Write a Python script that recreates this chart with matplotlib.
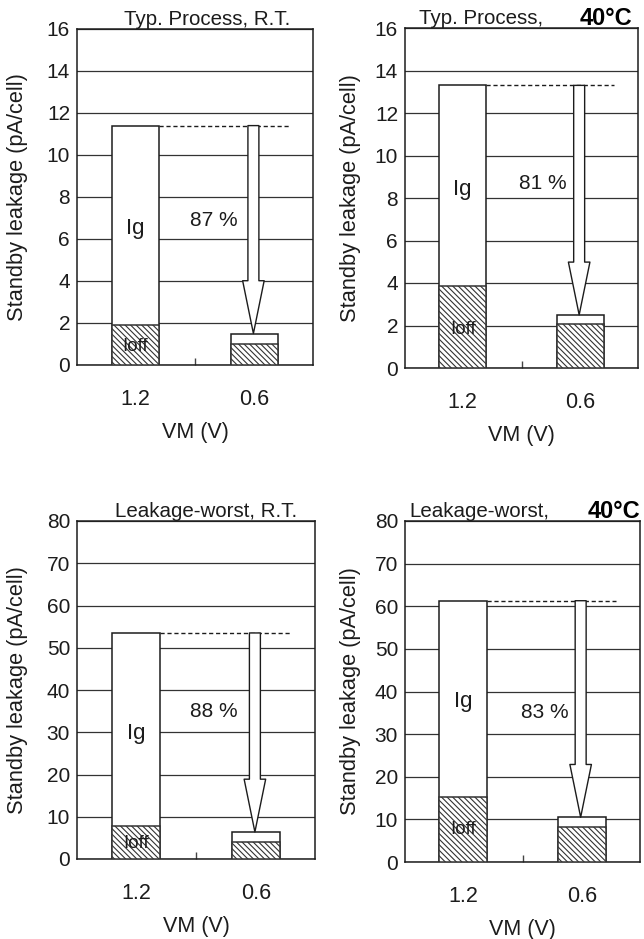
import matplotlib
matplotlib.use("Agg")
import matplotlib.pyplot as plt

plt.rcParams['font.family'] = ['Liberation Sans', 'DejaVu Sans']
plt.rcParams['hatch.linewidth'] = 0.8

# ---- data ----
categories = ["1.2", "0.6"]
panel_titles = ["Typ. Process, R.T.", "Typ. Process,", "Leakage-worst, R.T.", "Leakage-worst,"]
panel_temps = ["", "40°C", "", "40°C"]
total_leak = [[11.4, 1.5], [13.3, 2.5], [53.5, 6.4], [61.3, 10.5]]
ioff_leak = [[1.9, 1.0], [3.85, 2.05], [7.7, 4.1], [15.2, 8.1]]
reduction = ["87 %", "81 %", "88 %", "83 %"]
y_max = [16, 16, 80, 80]
y_step = [2, 2, 10, 10]

# ---- layout (pixels) ----
W, H = 644, 939
boxes = [(77, 313, 29, 365), (405, 638, 28, 368), (77, 315, 521, 859), (405, 640, 521, 862)]
ylabel_x = [17.5, 350, 17, 350]
title_pos = [(0.553, 'center'), (0.06, 'left'), (0.542, 'center'), (0.02, 'left')]
temp_x = [None, 0.974, None, 1.0]
ig_y = [6.5, 8.4, 29.7, 37.7]
ioff_y = [0.9, 1.8, 3.7, 7.6]
pct_xy = [(0.66, 6.9), (0.68, 8.7), (0.645, 34.9), (0.69, 35.1)]

ink = '#1c1c1c'
fig = plt.figure(figsize=(W / 100, H / 100), dpi=100)
x = [0, 1]
bw = 0.40
for i in range(4):
    l, r, t, b = boxes[i]
    ax = fig.add_axes([l / W, 1 - b / H, (r - l) / W, (b - t) / H])
    ax.set_xlim(-0.49, 1.49)
    ax.set_ylim(0, y_max[i])
    ax.set_yticks(range(0, y_max[i] + 1, y_step[i]))
    ax.yaxis.grid(True, color='#333333', linewidth=0.9)
    ax.set_axisbelow(True)
    for s in ax.spines.values():
        s.set_linewidth(1.1)
        s.set_color(ink)
    tot = total_leak[i]
    off = ioff_leak[i]
    # white total bars, hatched Ioff bars
    ax.bar(x, tot, width=bw, color='white', edgecolor=ink, linewidth=1.1, zorder=2)
    ax.bar(x, off, width=bw, color='white', edgecolor='#333333', linewidth=1.1,
           hatch='\\' * 6, zorder=3)
    # dashed reference line
    ax.plot([x[0] + bw / 2, 1.29], [tot[0], tot[0]], linestyle=(0, (3, 2)),
            color=ink, linewidth=1.0, zorder=4)
    # hollow arrow
    ax.annotate('', xy=(0.99, tot[1]), xytext=(0.99, tot[0]),
                arrowprops=dict(arrowstyle='simple,head_length=38,head_width=15.5,tail_width=7.9',
                                mutation_scale=1, facecolor='white', edgecolor=ink,
                                linewidth=1.0, shrinkA=0, shrinkB=0), zorder=5)
    ax.text(0, ig_y[i], 'Ig', ha='center', va='center', fontsize=16, color=ink, zorder=6)
    ax.text(0, ioff_y[i], 'Ioff', ha='center', va='center', fontsize=13.5, color=ink, zorder=6)
    ax.text(pct_xy[i][0], pct_xy[i][1], reduction[i], ha='center', va='center', fontsize=15,
            color=ink, zorder=6)
    # ticks
    ax.set_xticks(x)
    ax.set_xticklabels(categories)
    ax.set_xticks([0.5], minor=True)
    ax.tick_params(axis='x', which='major', length=0, pad=17, labelsize=15.5, colors=ink)
    ax.tick_params(axis='x', which='minor', length=5, direction='in', width=1, colors='#444444')
    ax.tick_params(axis='y', length=0, pad=5, labelsize=15, colors=ink)
    ax.set_xlabel('VM (V)', fontsize=15.5, color=ink)
    ax.xaxis.set_label_coords(0.5, -(57 / (b - t)))
    ax.set_ylabel('Standby leakage (pA/cell)', fontsize=15.7, color=ink, va='center')
    ax.yaxis.set_label_coords(-((l - ylabel_x[i]) / (r - l)), 0.5)
    # titles
    tx, ha = title_pos[i]
    ax.text(tx, 1 + 4 / (b - t), panel_titles[i], transform=ax.transAxes, ha=ha,
            va='baseline', fontsize=14.8, color=ink)
    if panel_temps[i]:
        ax.text(temp_x[i], 1 + 3 / (b - t), panel_temps[i], transform=ax.transAxes, ha='right',
                va='baseline', fontsize=17, fontweight='bold', color='black')

fig.savefig('out.png', dpi=100)
